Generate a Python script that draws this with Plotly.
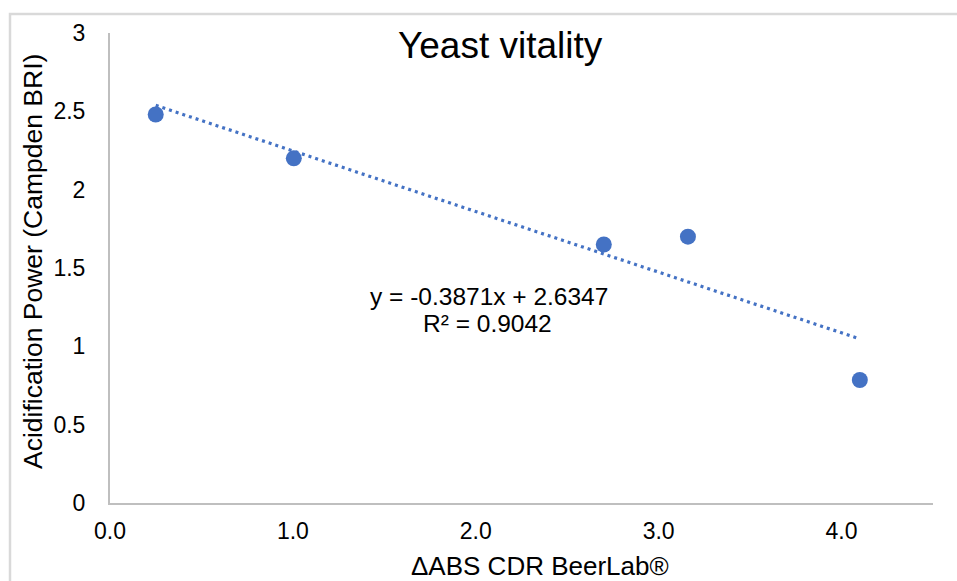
import plotly.graph_objects as go

# Data
delta_abs = [0.25, 1.005, 2.70, 3.16, 4.10]
acid_power = [2.48, 2.20, 1.65, 1.70, 0.785]

# Trendline coefficients as shown on the chart
slope = -0.3871
intercept = 2.6347
r_squared = 0.9042

x_ticks = [0, 1, 2, 3, 4]
y_ticks = [0, 0.5, 1, 1.5, 2, 2.5, 3]

title_text = "Yeast vitality"
x_title = "ΔABS CDR BeerLab®"
y_title = "Acidification Power (Campden BRI)"

trend_x = [min(delta_abs), max(delta_abs)]
trend_y = [slope * v + intercept for v in trend_x]

W, H = 957, 581
L, R, T, B = 110, 24, 33, 78
PW, PH = W - L - R, H - T - B


def px(xp):
    return (xp - L) / PW


def py(yp):
    return (H - B - yp) / PH


fig = go.Figure()
fig.add_trace(go.Scatter(
    x=trend_x, y=trend_y, mode="lines",
    line=dict(color="#4472C4", width=3.2, dash="3px,4px"),
    showlegend=False, hoverinfo="skip"))
fig.add_trace(go.Scatter(
    x=delta_abs, y=acid_power, mode="markers",
    marker=dict(color="#4472C4", size=16),
    showlegend=False))

font_family = "Liberation Sans, Arial, sans-serif"

fig.update_layout(
    width=W, height=H,
    margin=dict(l=L, r=R, t=T, b=B),
    paper_bgcolor="white", plot_bgcolor="white",
    font=dict(family=font_family, color="#000000", size=23),
    xaxis=dict(range=[0, 4.5], tickvals=x_ticks, tickformat=".1f",
               showgrid=False, zeroline=False, showline=True,
               linecolor="#bfbfbf", linewidth=2, ticks="",
               tickfont=dict(size=23), ticklabelstandoff=6),
    yaxis=dict(range=[0, 3], tickvals=y_ticks,
               showgrid=False, zeroline=False, showline=True,
               linecolor="#bfbfbf", linewidth=2, ticks="",
               tickfont=dict(size=23), ticklabelstandoff=18),
    shapes=[dict(type="rect", xref="paper", yref="paper",
                 x0=px(10), x1=px(1100), y0=py(700), y1=py(14),
                 line=dict(color="#d9d9d9", width=2.5), layer="below")],
    annotations=[
        dict(x=px(500), y=py(46), xref="paper", yref="paper",
             text=title_text, showarrow=False, xanchor="center", yanchor="middle",
             font=dict(size=37)),
        dict(x=px(540), y=py(566), xref="paper", yref="paper",
             text=x_title, showarrow=False, xanchor="center", yanchor="middle",
             font=dict(size=26)),
        dict(x=px(33), y=py(262), xref="paper", yref="paper",
             text=y_title, showarrow=False, xanchor="center", yanchor="middle",
             textangle=-90, font=dict(size=26.5)),
        dict(x=px(488.5), y=py(296), xref="paper", yref="paper",
             text=f"y = {slope}x + {intercept}",
             showarrow=False, xanchor="center", yanchor="middle",
             font=dict(size=24.5)),
        dict(x=px(487), y=py(323), xref="paper", yref="paper",
             text=f"R² = {r_squared}",
             showarrow=False, xanchor="center", yanchor="middle",
             font=dict(size=24.5)),
    ],
)

fig.write_html(
    "out.html",
    config={"displayModeBar": False},
    post_script="document.body.style.margin='0';document.body.style.overflow='hidden';",
)
